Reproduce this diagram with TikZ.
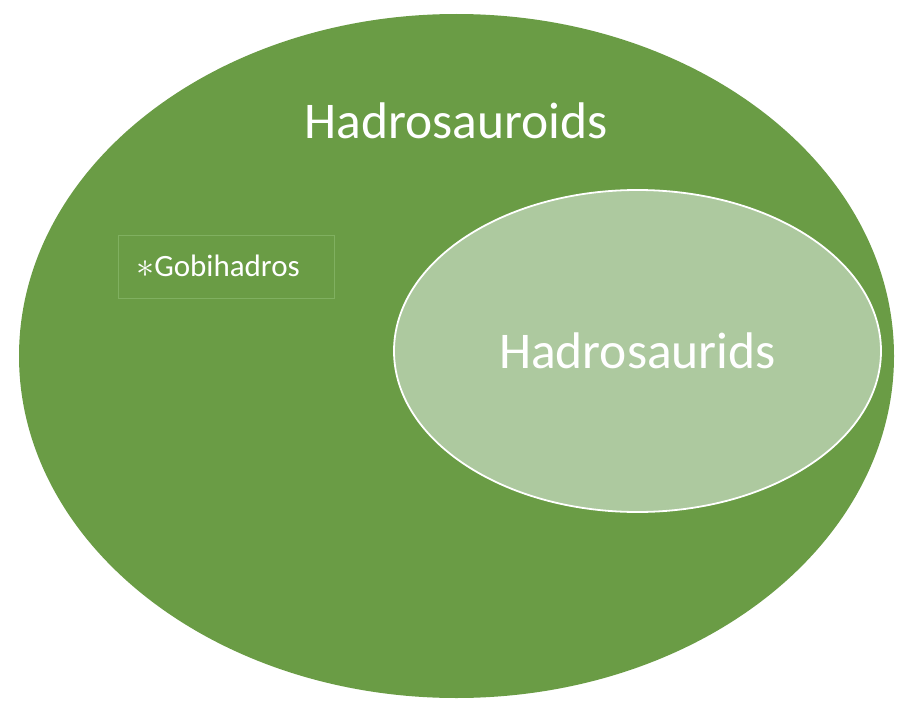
\documentclass[tikz,border=0pt]{standalone}
\usepackage{fontspec}
\setmainfont{Carlito}
\usetikzlibrary{shapes.geometric}
\definecolor{cladegreen}{HTML}{6A9C45}
\definecolor{subgreen}{HTML}{ADC99F}
\definecolor{boxline}{HTML}{80B060}
\begin{document}
\begin{tikzpicture}[
   x=1pt,y=-1pt,
   clade/.style={ellipse,inner sep=0pt},
   cladename/.style={text=white,font=\fontsize{51.5}{60}\selectfont},
   taxon/.style={draw=boxline,line width=0.6pt,minimum width=216pt,minimum height=63pt,text=white,font=\fontsize{31}{36}\selectfont}]
\useasboundingbox (0,0) rectangle (913,717);
\node[clade,fill=cladegreen,minimum width=875pt,minimum height=684pt] (hadrosauroids) at (456.5,356) {};
\node[clade,fill=subgreen,draw=white,line width=1.8pt,minimum width=487pt,minimum height=322pt] (hadrosaurids) at (637.5,351) {};
\node[cladename] (hadrosauroidslabel) at (456,121) {Hadrosauroids};
\node[cladename] (hadrosauridslabel) at (hadrosaurids.center) {Hadrosaurids};
\node[taxon] (gobihadros) at (226,266.5) {\hspace*{-16pt}\raisebox{-1pt}{\scalebox{1.45}{$\ast$}}Gobihadros};
\end{tikzpicture}
\end{document}
